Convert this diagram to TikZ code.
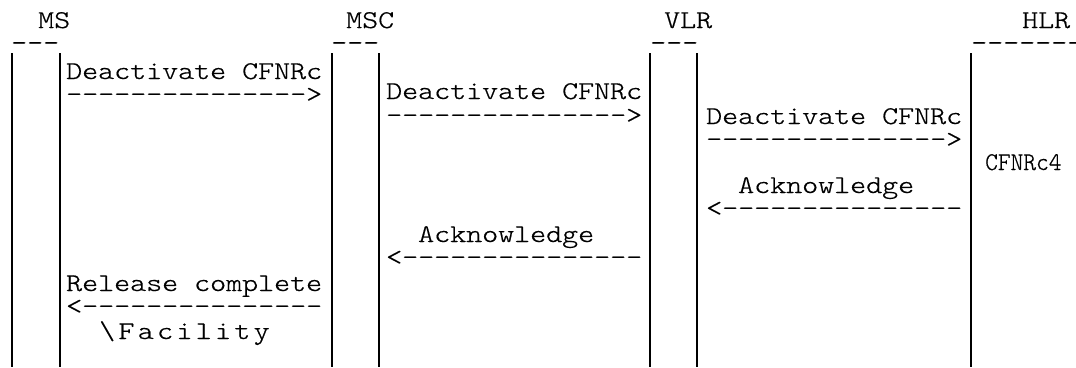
\documentclass[tikz,border=0pt]{standalone}
\usepackage{fontspec}
\newfontfamily\cour{lmmonolt10-regular.otf}[FakeStretch=1.195,FakeBold=0.6]
\newfontfamily\courtight{lmmonolt10-regular.otf}[FakeStretch=0.95,FakeBold=0.6]
\newfontfamily\courwide{lmmonolt10-regular.otf}[FakeStretch=1.195,LetterSpace=13,FakeBold=0.6]
\begin{document}
\begin{tikzpicture}[x=1pt,y=-1pt,
  txt/.style={anchor=base west, inner sep=0pt, font=\cour\fontsize{25.5}{30}\selectfont},
  tighttxt/.style={txt, font=\courtight\fontsize{25.5}{30}\selectfont},
  widetxt/.style={txt, font=\courwide\fontsize{25.5}{30}\selectfont},
  life/.style={line width=1.3pt, black}]
\useasboundingbox (0,0) rectangle (1076,367);
% headers
\node[txt] (ms)  at (38,28)   {MS};
\node[txt] (msc) at (346,28)  {MSC};
\node[txt] (vlr) at (664,28)  {VLR};
\node[txt] (hlr) at (1022,28) {HLR};
\node[txt] (msu)  at (11,39)  {\_\_\_};
\node[txt] (mscu) at (331,39) {\_\_\_};
\node[txt] (vlru) at (650,39) {\_\_\_};
\node[txt] (hlru) at (971,39) {\_\_\_\_\_\_\_};
% lifelines
\coordinate (a1) at (12,53);  \coordinate (a2) at (60,53);
\coordinate (b1) at (332,53); \coordinate (b2) at (379,53);
\coordinate (c1) at (650,53); \coordinate (c2) at (697,53);
\coordinate (d1) at (971,53);
\foreach \p in {a1,a2,b1,b2,c1,c2,d1}
  \draw[life] (\p) -- (\p |- 0,367);
% column 1
\node[txt] (m1)  at (66,79)    {Deactivate CFNRc};
\node[txt] (m1a) at (66,102)   {--------------->};
\node[txt] (m6)  at (66,291)   {Release complete};
\node[txt] (m6a) at (66,314)   {<---------------};
\node[widetxt] (m6c) at (99,339)  {\textbackslash Facility};
% column 2
\node[txt] (m2)  at (386,99)   {Deactivate CFNRc};
\node[txt] (m2a) at (386,123)  {--------------->};
\node[txt] (m5)  at (418,242)  {Acknowledge};
\node[txt] (m5a) at (386,265)  {<---------------};
% column 3
\node[txt] (m3)  at (706,124)  {Deactivate CFNRc};
\node[txt] (m3a) at (706,147)  {--------------->};
\node[txt] (m4)  at (738,193)  {Acknowledge};
\node[txt] (m4a) at (706,216)  {<---------------};
% column 4
\node[tighttxt] (h1)  at (985,170)  {CFNRc4};
\end{tikzpicture}
\end{document}
